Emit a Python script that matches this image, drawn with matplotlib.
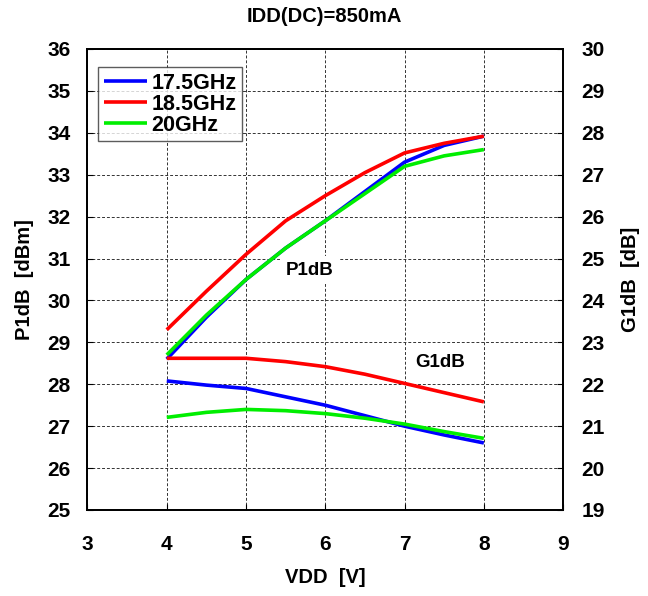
import matplotlib
matplotlib.use("Agg")
import matplotlib.pyplot as plt

plt.rcParams['font.family'] = ['Liberation Sans', 'DejaVu Sans']
plt.rcParams['font.weight'] = 'bold'

vdd = [4, 4.5, 5, 5.5, 6, 6.5, 7, 7.5, 8]
series_names = ["17.5GHz", "18.5GHz", "20GHz"]
colors = ["#0000ff", "#ff0000", "#00ee00"]

p1db_175 = [28.6, 29.6, 30.5, 31.25, 31.9, 32.6, 33.3, 33.7, 33.92]
p1db_185 = [29.3, 30.22, 31.1, 31.9, 32.5, 33.05, 33.52, 33.75, 33.92]
p1db_20 = [28.7, 29.65, 30.5, 31.25, 31.9, 32.55, 33.2, 33.45, 33.6]

g1db_175 = [22.08, 21.98, 21.9, 21.7, 21.5, 21.25, 21.0, 20.79, 20.6]
g1db_185 = [22.62, 22.62, 22.62, 22.54, 22.42, 22.24, 22.02, 21.8, 21.58]
g1db_20 = [21.21, 21.33, 21.4, 21.37, 21.3, 21.19, 21.05, 20.87, 20.71]

p1db = [p1db_175, p1db_185, p1db_20]
g1db = [g1db_175, g1db_185, g1db_20]

x_ticks = [3, 4, 5, 6, 7, 8, 9]
y_left_ticks = list(range(25, 37))
y_right_ticks = list(range(19, 31))

fig = plt.figure(figsize=(6.48, 5.96), dpi=100)
ax = fig.add_axes([0.135, 0.1443, 0.734, 0.7735])
ax2 = ax.twinx()

for vals, c, n in zip(p1db, colors, series_names):
    ax.plot(vdd, vals, color=c, lw=2.6, label=n, solid_capstyle='butt')
for vals, c in zip(g1db, colors):
    ax2.plot(vdd, vals, color=c, lw=2.6, solid_capstyle='butt')

ax.set_xlim(3, 9)
ax.set_ylim(25, 36)
ax2.set_ylim(19, 30)
ax.set_xticks(x_ticks)
ax.set_yticks(y_left_ticks)
ax2.set_yticks(y_right_ticks)

ax.grid(True, color='#333333', linestyle=(0, (3, 2)), linewidth=0.7)
ax.tick_params(axis='both', direction='in', length=4, width=0.8, labelsize=15)
ax.tick_params(axis='y', pad=12)
ax.tick_params(axis='x', pad=18)
ax2.tick_params(axis='y', direction='in', length=4, width=0.8, labelsize=15, pad=13)
for a in (ax, ax2):
    for s in a.spines.values():
        s.set_linewidth(1.3)
        s.set_color('black')

ax.set_xlabel("VDD  [V]", fontsize=14.5, fontweight='bold', labelpad=10)
ax.set_ylabel("P1dB  [dBm]", fontsize=14.5, fontweight='bold', labelpad=10)
ax2.set_ylabel("G1dB  [dB]", fontsize=14.5, fontweight='bold', labelpad=12)
fig.text(0.5, 0.972, "IDD(DC)=850mA", ha='center', va='center', fontsize=14.5, fontweight='bold')

ax.text(5.80, 30.72, "P1dB", fontsize=13.5, fontweight='bold', ha='center', va='center',
        bbox=dict(facecolor='white', edgecolor='none', pad=4), zorder=5)
ax.text(7.45, 28.52, "G1dB", fontsize=13.5, fontweight='bold', ha='center', va='center',
        bbox=dict(facecolor='white', edgecolor='none', pad=4), zorder=5)

leg = ax.legend(loc='upper left', bbox_to_anchor=(0.023, 0.96), fontsize=15.5, frameon=True,
                fancybox=False, handlelength=2.0, handletextpad=0.2, borderpad=0.25,
                labelspacing=0.0, borderaxespad=0)
leg.get_frame().set_edgecolor('#333333')
leg.get_frame().set_linewidth(1.0)
leg.set_zorder(10)

fig.savefig("out.png", dpi=100)
